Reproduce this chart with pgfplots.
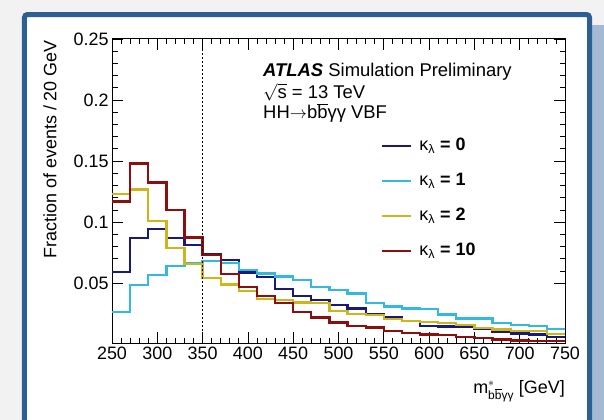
\documentclass[border=0pt]{standalone}
\usepackage{fontspec}
\setmainfont{Liberation Sans}
\usepackage{pgfplots}
\usepackage{pgfplotstable}
\pgfplotsset{compat=1.18}
\usetikzlibrary{calc}
\pgfdeclarelayer{background}
\pgfsetlayers{background,main}
\definecolor{kzero}{RGB}{25,25,120}
\definecolor{kone}{RGB}{51,184,222}
\definecolor{ktwo}{RGB}{205,182,25}
\definecolor{kten}{RGB}{140,15,15}
\definecolor{frameblue}{RGB}{44,95,150}
\definecolor{stripblue}{RGB}{165,186,210}
\definecolor{bggray}{RGB}{242,242,242}
\newcommand{\fs}{\fontsize{18}{21}\selectfont}

\pgfplotstableread{
x    k0     k1     k2     k10
250  0.0593 0.0265 0.1232 0.1170
270  0.0871 0.0484 0.1268 0.1480
290  0.0943 0.0566 0.1008 0.1325
310  0.0871 0.0642 0.0787 0.1100
330  0.0811 0.0661 0.0656 0.0874
350  0.0740 0.0682 0.0545 0.0730
370  0.0688 0.0668 0.0490 0.0574
390  0.0587 0.0610 0.0435 0.0470
410  0.0548 0.0580 0.0370 0.0396
430  0.0453 0.0555 0.0362 0.0339
450  0.0395 0.0525 0.0342 0.0265
470  0.0360 0.0470 0.0335 0.0219
490  0.0320 0.0443 0.0270 0.0178
510  0.0292 0.0415 0.0250 0.0148
530  0.0246 0.0340 0.0238 0.0137
550  0.0219 0.0310 0.0205 0.0107
570  0.0189 0.0292 0.0190 0.0093
590  0.0148 0.0290 0.0183 0.0079
610  0.0145 0.0243 0.0175 0.0076
630  0.0142 0.0210 0.0156 0.0060
650  0.0128 0.0210 0.0134 0.0052
670  0.0101 0.0175 0.0120 0.0039
690  0.0087 0.0156 0.0110 0.0030
710  0.0079 0.0152 0.0110 0.0025
730  0.0060 0.0125 0.0082 0.0025
750  0.0060 0.0125 0.0082 0.0025
}\histdata

\begin{document}
\begin{tikzpicture}
\begin{axis}[
  name=ax, scale only axis,
  width=453bp, height=304bp,
  xmin=250, xmax=750, ymin=0.001, ymax=0.25,
  xtick={250,300,...,750},
  ytick={0.05,0.1,0.15,0.2,0.25},
  minor x tick num=4, minor y tick num=4,
  tick align=inside,
  xtick pos=both, ytick pos=both,
  xticklabel pos=lower, yticklabel pos=left,
  major tick length=11bp, minor tick length=5.5bp,
  tick style={black, line width=0.8bp},
  axis line style={black, line width=1bp},
  scaled y ticks=false,
  /pgf/number format/assume math mode=true,
  yticklabel style={/pgf/number format/.cd, fixed, precision=2},
  tick label style={font=\fs},
  xlabel={m$^{*}_{\mbox{\fontsize{12}{12}\selectfont b$\overline{\mbox{b}}$γγ}}$ [GeV]},
  xlabel style={at={(axis description cs:1,-0.1645)}, anchor=base east, font=\fs, inner sep=0pt},
  ylabel={Fraction of events / 20 GeV},
  ylabel style={at={(axis description cs:-0.1369,0.9967)}, anchor=east, font=\fs, inner sep=0pt},
  legend cell align=left,
  legend image code/.code={\draw[#1] (0bp,0bp) -- (29bp,0bp);},
  legend style={draw=none, fill=none, inner sep=0pt,
    at={(axis description cs:0.5938,0.6776)}, anchor=north west,
    row sep=17bp, column sep=7bp, font=\fs,
    nodes={inner sep=0pt, text height=13bp, text depth=5bp}},
]
\addplot[const plot, kzero, line width=2.3bp] table[x=x, y=k0] {\histdata};
\addlegendentry{κ\textsubscript{λ} \textbf{= 0}}
\addplot[const plot, kone, line width=2.3bp] table[x=x, y=k1] {\histdata};
\addlegendentry{κ\textsubscript{λ} \textbf{= 1}}
\addplot[const plot, ktwo, line width=2.3bp] table[x=x, y=k2] {\histdata};
\addlegendentry{κ\textsubscript{λ} \textbf{= 2}}
\addplot[const plot, kten, line width=2.3bp] table[x=x, y=k10] {\histdata};
\addlegendentry{κ\textsubscript{λ} \textbf{= 10}}
\addplot[black, line width=1.4bp, dash pattern=on 2bp off 2bp, forget plot] coordinates {(350,0.001) (350,0.25)};
\end{axis}

\begin{scope}[shift={($(ax.south west)+(-112bp,-76bp)$)}, x=1bp, y=1bp]
\begin{pgfonlayer}{background}
\fill[bggray] (-5,-20) rectangle (610,419);
\fill[stripblue] (592,-20) rectangle (610,394);
\fill[white] (24.5,-20) rectangle (589.5,404.5);
\draw[frameblue, line width=5bp, rounded corners=3bp] (24.5,-20) -- (24.5,404.5) -- (589.5,404.5) -- (589.5,-20);
\end{pgfonlayer}
\node[anchor=base west, font=\fontsize{18.5}{20}\selectfont, inner sep=0pt] at (263,342.5) {\textbf{\textit{ATLAS}} Simulation Preliminary};
\node[anchor=base west, font=\fontsize{18.5}{20}\selectfont, inner sep=0pt] at (263,321) {\smash{$\sqrt{\mbox{s}}$} = 13 TeV};
\node[anchor=base west, font=\fontsize{18.5}{20}\selectfont, inner sep=0pt] at (263,300.5) {HH$\rightarrow$b$\overline{\mbox{b}}$γγ VBF};
\pgfresetboundingbox
\path[use as bounding box] (0,0) rectangle (604,419);
\end{scope}
\end{tikzpicture}
\end{document}
